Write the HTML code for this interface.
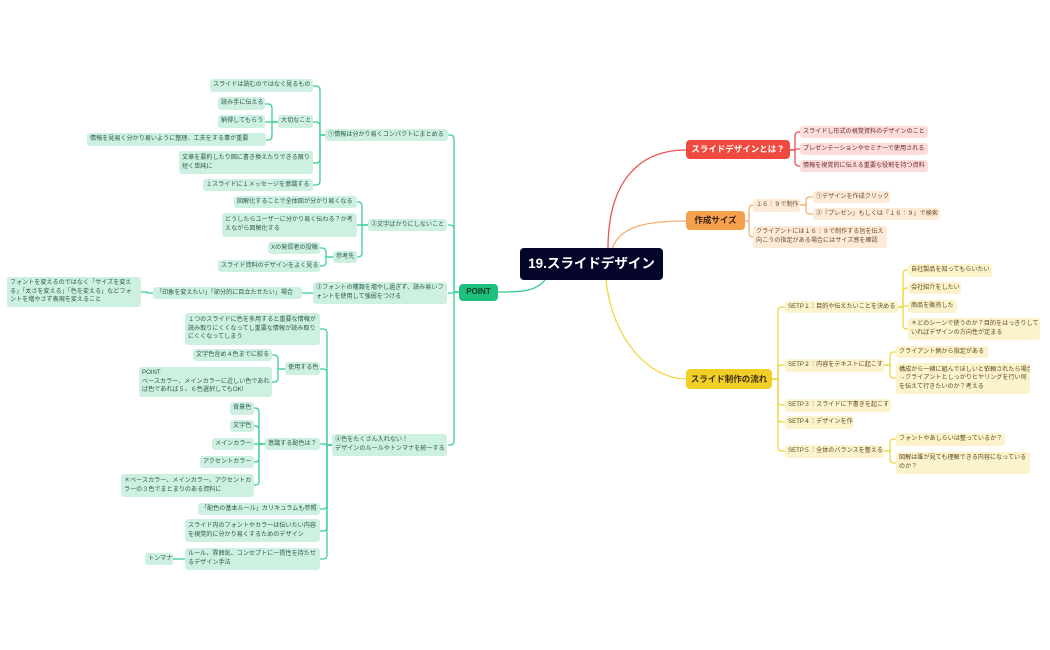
<!DOCTYPE html>
<html><head><meta charset="utf-8">
<style>
body{margin:0;width:1050px;height:650px;background:#fff;position:relative;overflow:hidden;font-family:"Liberation Sans","Noto Sans CJK JP",sans-serif;}
.n{position:absolute;box-sizing:border-box;border-radius:3px;font-size:6.1px;line-height:8.6px;padding:0 3px;display:flex;align-items:center;white-space:nowrap;overflow:hidden;}
.g{background:#cdf0e1;color:#2d5c4a;}
.r{background:#fddcdc;color:#6b2a2a;}
.o{background:#fdebd8;color:#6b4a2a;}
.y{background:#fcf3cd;color:#5a4d1a;}
.m{font-weight:bold;color:#fff;justify-content:center;font-size:8.5px;border-radius:4px;}
svg{position:absolute;left:0;top:0;}
</style></head><body>
<svg id="s" width="1050" height="650" fill="none" stroke-width="1.3">
<path d="M608 249 C608 180,640 150,686 150" stroke="#f05050"/>
<path d="M612 249 C620 225,650 221,686 221" stroke="#f5b070"/>
<path d="M606 280 C612 340,650 379,686 379" stroke="#f2d640"/>
<path d="M545 280 C535 292,520 292,498 292" stroke="#2ec88a"/>
</svg>
<div class="n m" style="left:520px;top:248px;width:143px;height:32px;background:#05052a;font-size:13.5px;font-weight:bold">19.スライドデザイン</div>
<div class="n m" style="left:459px;top:284px;width:39px;height:17px;background:#1fbf7e;color:#0a3a25;font-size:8px">POINT</div>
<div class="n m" style="left:686px;top:140px;width:104px;height:19px;background:#f04a3f">スライドデザインとは？</div>
<div class="n m" style="left:686px;top:211px;width:59px;height:19px;background:#f5a04d;color:#3a2410">作成サイズ</div>
<div class="n m" style="left:686px;top:369px;width:86px;height:20px;background:#f2cf27;color:#3a3010">スライド制作の流れ</div>
<div id="nodes"></div>
<script>
var N=[
[800,126,128,12,'r','スライドし形式の視覚資料のデザインのこと'],
[800,143,128,12,'r','プレゼンテーションやセミナーで使用される'],
[800,160,128,12,'r','情報を視覚的に伝える重要な役割を持つ資料'],
[753,199,47,13,'o','１６：９で制作'],
[813,191,77,12,'o','①デザインを作成クリック'],
[813,208,127,12,'o','②『プレゼン』もしくは『１６：９』で検索'],
[753,226,134,22,'o','クライアントには１６：９で制作する旨を伝え<br>向こうの指定がある場合にはサイズ感を確認'],
[785,301,113,12,'y','SETP１：目的や伝えたいことを決める'],
[908,264,84,13,'y','自社製品を知ってもらいたい'],
[908,282,53,12,'y','会社紹介をしたい'],
[908,300,49,13,'y','商品を販売した'],
[908,318,132,22,'y','＊どのシーンで使うのか？目的をはっきりして<br>いればデザインの方向性が定まる'],
[785,359,99,13,'y','SETP２：内容をテキストに起こす'],
[896,346,92,12,'y','クライアント側から指定がある'],
[896,363,134,31,'y','構成から一緒に組んでほしいと依頼されたら場合<br>→クライアントとしっかりヒヤリングを行い何<br>を伝えて行きたいのか？考える'],
[785,399,106,13,'y','SETP３：スライドに下書きを起こす'],
[785,416,68,13,'y','SETP４：デザインを作'],
[785,445,99,13,'y','SETP５：全体のバランスを整える'],
[896,433,109,13,'y','フォントやあしらいは整っているか？'],
[896,452,134,22,'y','図解は誰が見ても理解できる内容になっている<br>のか？'],
[325,129,123,12,'g','①情報は分かり易くコンパクトにまとめる'],
[210,79,103,13,'g','スライドは読むのではなく見るもの'],
[278,115,35,13,'g','大切なこと'],
[218,97,47,13,'g','読み手に伝える'],
[218,115,47,13,'g','納得してもらう'],
[87,133,179,13,'g','情報を見易く分かり易いように整理、工夫をする事が重要'],
[179,151,134,23,'g','文章を要約したり図に書き換えたりできる限り<br>短く単純に'],
[203,179,110,12,'g','１スライドに１メッセージを意識する'],
[368,219,79,12,'g','②文字ばかりにしないこと'],
[234,196,123,12,'g','図解化することで全体図が分かり易くなる'],
[222,213,135,24,'g','どうしたらユーザーに分かり易く伝わる？か考<br>えながら図解化する'],
[333,251,24,12,'g','参考先'],
[268,242,52,12,'g','Xの発信者の投稿'],
[218,260,102,12,'g','スライド資料のデザインをよく見る'],
[313,282,134,22,'g','③フォントの種類を増やし過ぎず、読み易いフ<br>ォントを使用して強弱をつける'],
[153,287,149,12,'g','「印象を変えたい」「部分的に目立たせたい」場合'],
[7,277,134,30,'g','フォントを変えるのではなく「サイズを変え<br>る」「太さを変える」「色を変える」などフォ<br>ントを増やさず表現を変えること'],
[332,434,115,22,'g','④色をたくさん入れない！<br>デザインのルールやトンマナを統一する'],
[185,313,135,32,'g','１つのスライドに色を多用すると重要な情報が<br>読み取りにくくなってし重要な情報が読み取り<br>にくくなってしまう'],
[285,362,35,13,'g','使用する色'],
[193,349,79,12,'g','文字色含め４色までに絞る'],
[139,367,133,30,'g','POINT<br>ベースカラー、メインカラーに近しい色であれ<br>ば色であれば５、６色選択してもOK!'],
[265,438,55,12,'g','意識する配色は？'],
[230,402,24,13,'g','背景色'],
[230,420,24,12,'g','文字色'],
[212,438,42,12,'g','メインカラー'],
[200,456,54,12,'g','アクセントカラー'],
[121,474,133,23,'g','＊ベースカラー、メインカラー、アクセントカ<br>ラーの３色でまとまりのある資料に'],
[198,503,122,12,'g','「配色の基本ルール」カリキュラムも参照'],
[185,519,135,23,'g','スライド内のフォントやカラーは伝いたい内容<br>を視覚的に分かり易くするためのデザイン'],
[185,548,135,22,'g','ルール、雰囲気、コンセプトに一貫性を持たせ<br>るデザイン手法'],
[145,553,28,12,'g','トンマナ']
];
var h='';N.forEach(function(a){h+='<div class="n '+a[4]+'" style="left:'+a[0]+'px;top:'+a[1]+'px;width:'+a[2]+'px;height:'+a[3]+'px">'+a[5]+'</div>';});
document.getElementById('nodes').innerHTML=h;
var E=[
['#f05050',790,150,795,800,[132,149,166]],
['#f5b070',745,221,749,753,[205,237]],
['#f5b070',800,205,806,813,[197,214]],
['#f2d640',772,379,778,785,[307,365,405,422,451]],
['#f2d640',898,307,903,908,[270,288,306,329]],
['#f2d640',884,365,890,896,[352,378]],
['#f2d640',884,451,890,896,[439,463]],
['#3ccf98',459,292,454,448,[135,225,293,445]],
['#3ccf98',325,135,320,313,[86,122,163,185]],
['#3ccf98',278,122,272,265,[104,122,140]],
['#3ccf98',368,225,362,357,[202,225,257]],
['#3ccf98',333,257,326,320,[248,266]],
['#3ccf98',313,293,307,302,[293]],
['#3ccf98',153,293,147,141,[292]],
['#3ccf98',332,445,327,320,[329,369,444,509,531,559]],
['#3ccf98',285,369,278,272,[355,382]],
['#3ccf98',265,444,259,254,[408,426,444,462,485]],
['#3ccf98',185,559,179,173,[559]]
];
var p='';
E.forEach(function(e){var c=e[0],x1=e[1],y1=e[2],sx=e[3],x2=e[4];var dir=x2>x1?1:-1;
e[5].forEach(function(y2){var d;var r=4;
if(Math.abs(y2-y1)<2*r){d='M'+x1+' '+y1+' L'+sx+' '+y1+' L'+sx+' '+y2+' L'+x2+' '+y2;}
else{var s=y2>y1?1:-1;d='M'+x1+' '+y1+' L'+sx+' '+y1+' L'+sx+' '+(y2-s*r)+' Q'+sx+' '+y2+' '+(sx+dir*r)+' '+y2+' L'+x2+' '+y2;}
p+='<path d="'+d+'" stroke="'+c+'"/>';});});
document.getElementById('s').innerHTML+=p;
</script>
</body></html>
